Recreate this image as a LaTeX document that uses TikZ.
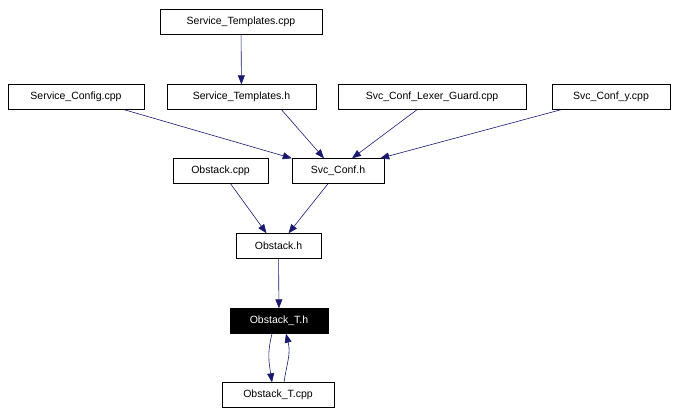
\documentclass[tikz,border=0pt]{standalone}
\usepackage{fontspec}
\setmainfont{Liberation Sans}
\usetikzlibrary{arrows.meta}
\definecolor{edge}{HTML}{191970}
\begin{document}
\begin{tikzpicture}[x=1pt,y=-1pt,
  box/.style={draw=black,fill=white,minimum height=25pt,inner sep=0pt,font=\fontsize{10.5}{12}\selectfont},
  e/.style={draw=edge,line width=0.6pt,-{Triangle[length=9pt,width=7pt]},fill=none}]
\useasboundingbox (0,0) rectangle (679,415);
\node[box,minimum width=162pt] (stc) at (241,22) {Service\_Templates.cpp};
\node[box,minimum width=136pt] (scc) at (76,97) {Service\_Config.cpp};
\node[box,minimum width=149pt] (sth) at (241.5,97) {Service\_Templates.h};
\node[box,minimum width=188pt] (lg) at (432,97) {Svc\_Conf\_Lexer\_Guard.cpp};
\node[box,minimum width=118pt] (scy) at (611,97) {Svc\_Conf\_y.cpp};
\node[box,minimum width=95pt] (oc) at (220.5,171) {Obstack.cpp};
\node[box,minimum width=92pt] (sch) at (338,171) {Svc\_Conf.h};
\node[box,minimum width=85pt] (oh) at (278.5,246) {Obstack.h};
\node[box,minimum width=98pt,fill=black,text=white] (oth) at (279,321) {Obstack\_T.h};
\node[box,minimum width=112pt] (otc) at (278,395) {Obstack\_T.cpp};
\draw[e] (stc) -- (sth);
\draw[e] (scc.south east) ++(-20,0) coordinate (a1) (a1) -- (sch.north west);
\draw[e] (sth.south) ++(40,0) coordinate (a2) (a2) -- ([xshift=-14pt]sch.north);
\draw[e] (lg.south) ++(-15,0) coordinate (a3) (a3) -- ([xshift=14pt]sch.north);
\draw[e] (scy.south) ++(-50,0) coordinate (a4) (a4) -- ([xshift=-4pt]sch.north east);
\draw[e] (oc.south) ++(10,0) coordinate (a5) (a5) -- ([xshift=-12pt]oh.north);
\draw[e] (sch.south) ++(-10,0) coordinate (a6) (a6) -- ([xshift=10pt]oh.north);
\draw[e] (oh) -- (oth);
\draw[e] ([xshift=-7pt]oth.south) .. controls +(-5,20) and +(-3,-20) .. ([xshift=-6pt]otc.north);
\draw[e] ([xshift=6pt]otc.north) .. controls +(3,-20) and +(5,20) .. ([xshift=7pt]oth.south);
\end{tikzpicture}
\end{document}
